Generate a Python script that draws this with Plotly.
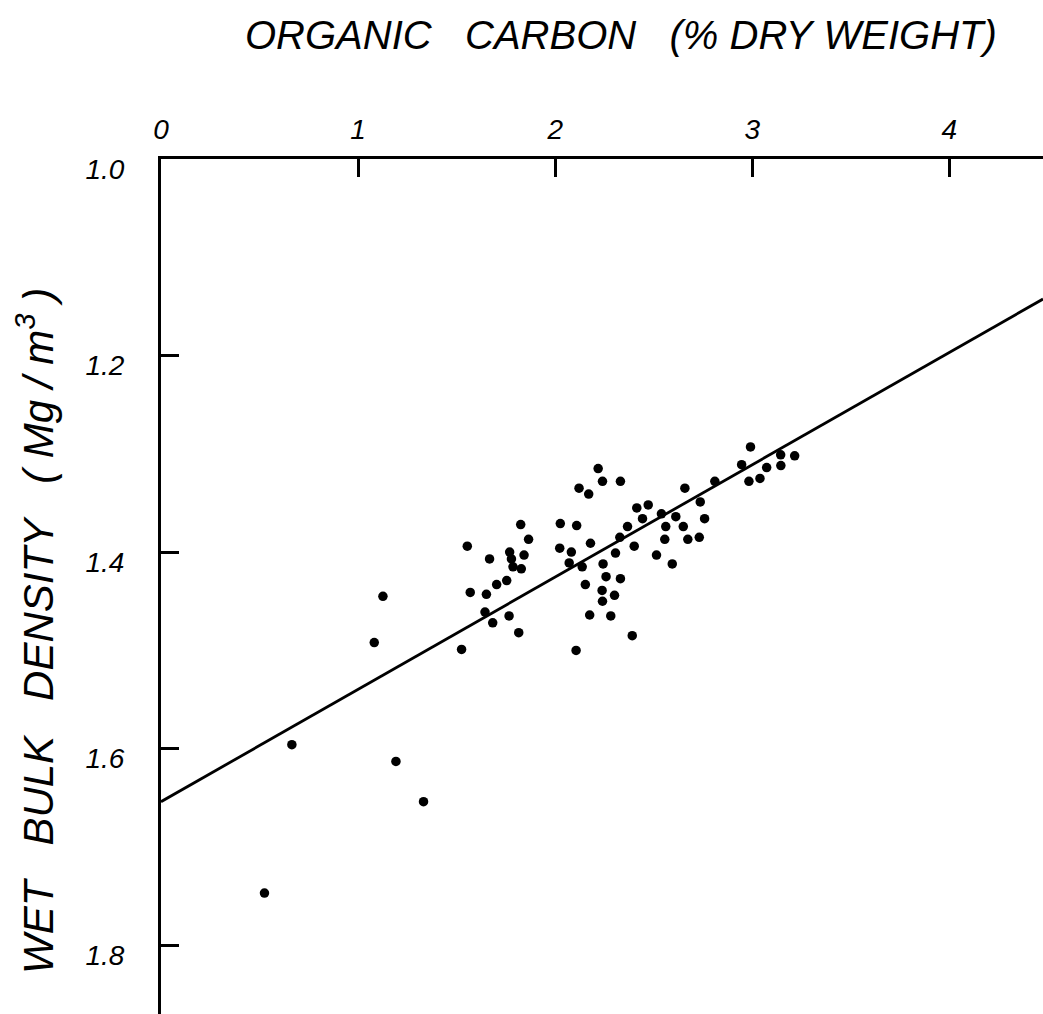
import plotly.graph_objects as go

# Organic carbon content (% dry weight) and wet bulk density (Mg/m^3) of the samples
organic_carbon = [
    2.218, 2.240, 2.331, 2.121, 2.170, 2.414, 2.472, 2.443, 2.539, 1.825,
    2.026, 2.109, 2.367, 1.865, 2.328, 1.554, 2.023, 2.179, 2.082, 2.401,
    2.514, 1.667, 1.769, 1.778, 1.842, 1.786, 1.828, 2.306, 2.071, 2.137,
    2.243, 1.703, 1.754, 2.153, 2.258, 2.331, 1.569, 1.651, 2.238, 2.301,
    2.240, 1.644, 1.766, 1.683, 2.175, 2.282, 1.815, 2.391, 1.525, 2.106,
    2.991, 3.144, 3.215, 2.946, 3.073, 3.145, 2.983, 3.039, 2.810, 2.658,
    2.736, 2.612, 2.758, 2.561, 2.650, 2.556, 2.673, 2.731, 2.594,
    1.126, 1.082, 0.664, 1.192, 1.332, 0.525,
]
wet_bulk_density = [
    1.315, 1.328, 1.328, 1.335, 1.341, 1.355, 1.352, 1.366, 1.361, 1.372,
    1.371, 1.373, 1.374, 1.387, 1.385, 1.394, 1.396, 1.391, 1.400, 1.394,
    1.403, 1.407, 1.400, 1.407, 1.403, 1.415, 1.417, 1.401, 1.411, 1.415,
    1.412, 1.433, 1.429, 1.433, 1.425, 1.427, 1.441, 1.443, 1.439, 1.444,
    1.450, 1.461, 1.465, 1.472, 1.464, 1.465, 1.482, 1.485, 1.499, 1.500,
    1.293, 1.301, 1.302, 1.311, 1.314, 1.312, 1.328, 1.325, 1.328, 1.335,
    1.349, 1.364, 1.366, 1.374, 1.374, 1.387, 1.387, 1.385, 1.412,
    1.445, 1.492, 1.596, 1.613, 1.654, 1.747,
]

# Fitted straight line: density = intercept + slope * carbon
fit_intercept = 1.654
fit_slope = -0.1143

x_ticks = [0, 1, 2, 3, 4]
x_tick_labels = ["0", "1", "2", "3", "4"]
y_ticks = [1.0, 1.2, 1.4, 1.6, 1.8]
y_tick_labels = ["1.0", "1.2", "1.4", "1.6", "1.8"]

x_range = [0, 4.475]
y_range = [1.870, 1.0]

hand_font = "Liberation Sans, Arial, sans-serif"
ink = "black"
gap = "\u00a0"

fit_x = [x_range[0], x_range[1]]
fit_y = [fit_intercept + fit_slope * v for v in fit_x]

fig = go.Figure()
fig.add_trace(go.Scatter(
    x=fit_x, y=fit_y, mode="lines",
    line=dict(color=ink, width=2.8),
    hoverinfo="skip", showlegend=False,
))
fig.add_trace(go.Scatter(
    x=organic_carbon, y=wet_bulk_density, mode="markers",
    marker=dict(color=ink, size=9.5, line=dict(width=0)),
    showlegend=False,
))

axis_common = dict(
    showgrid=False, zeroline=False,
    showline=True, linecolor=ink, linewidth=3,
    ticks="inside", ticklen=18, tickwidth=2.5, tickcolor=ink,
    tickfont=dict(family=hand_font, size=28, color=ink, style="italic"),
)

x_title = f"ORGANIC{gap * 3}CARBON{gap * 3}(%{gap}DRY{gap}WEIGHT)"
y_title = f"WET{gap * 3}BULK{gap * 3}DENSITY{gap * 3}({gap}Mg{gap}/{gap}m<sup>3</sup>{gap})"

fig.update_layout(
    width=1043, height=1014,
    margin=dict(l=161, r=0, t=159, b=0, pad=0),
    paper_bgcolor="white", plot_bgcolor="white",
    xaxis=dict(
        side="top", range=x_range,
        tickmode="array", tickvals=x_ticks, ticktext=x_tick_labels,
        ticklabelstandoff=6,
        **axis_common,
    ),
    yaxis=dict(
        range=y_range,
        tickmode="array", tickvals=y_ticks, ticktext=y_tick_labels,
        ticklabelstandoff=28, ticklabelshift=-10,
        **axis_common,
    ),
    annotations=[
        dict(
            text=x_title,
            xref="paper", yref="paper", x=0.5215, y=1.145,
            xanchor="center", yanchor="middle", showarrow=False,
            font=dict(family=hand_font, size=40, color=ink, style="italic"),
        ),
        dict(
            text=y_title,
            xref="paper", yref="paper", x=-0.1429, y=0.448,
            xanchor="center", yanchor="middle", showarrow=False, textangle=-90,
            font=dict(family=hand_font, size=42, color=ink, style="italic"),
        ),
    ],
)

fig.write_html("out.html")
